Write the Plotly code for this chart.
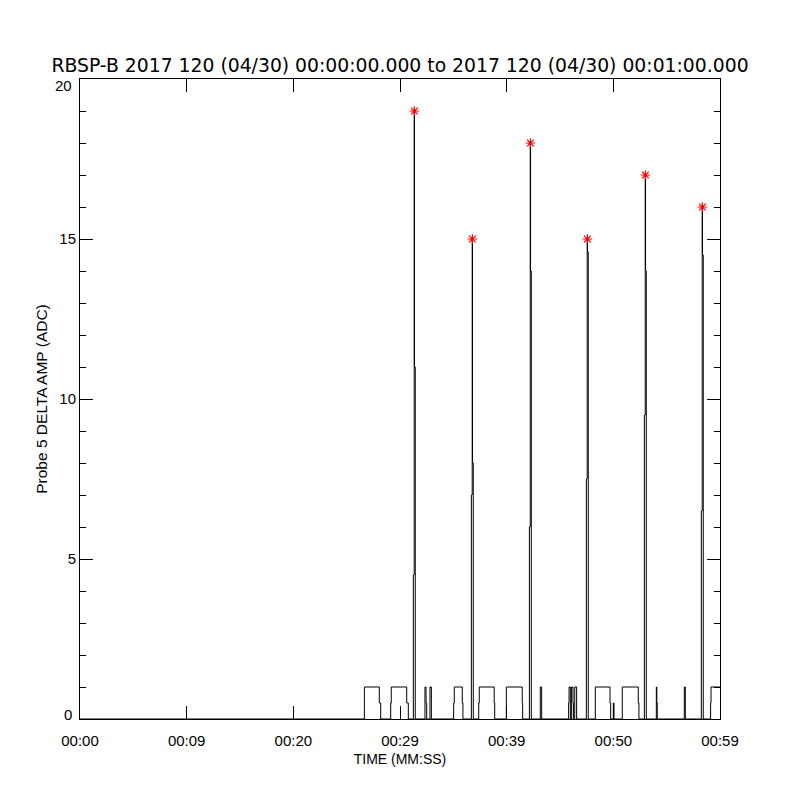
import plotly.graph_objects as go

# Signal samples (time in seconds from 00:00:00, value held until next sample)
sig_t = [0.0,
         26.66, 28.06, 28.19,
         29.13, 29.18, 30.63, 30.78,
         31.25, 31.33, 31.36, 31.43,
         32.34, 32.44, 32.50, 32.81, 32.94,
         35.03, 35.09, 35.84, 35.90,
         36.69, 36.77, 36.80, 36.87,
         37.38, 37.43, 38.83, 38.88,
         39.97, 41.46, 41.50,
         42.13, 42.21, 42.24, 42.31,
         43.15, 43.28,
         45.81, 45.85, 45.97, 46.09, 46.22, 46.26, 46.38, 46.56,
         47.47, 47.55, 47.58, 47.65,
         48.31, 49.69, 49.75,
         50.00, 50.06,
         50.84, 52.34, 52.40,
         52.91, 52.99, 53.02, 53.09,
         54.03, 54.08, 54.12,
         56.65, 56.75,
         58.25, 58.33, 58.36, 58.43,
         59.12, 59.16, 60.0]
sig_v = [0,
         1, 0.5, 0,
         0.5, 1, 0.5, 0,
         4.5, 19, 11, 0,
         1, 0.5, 0, 1, 0,
         0.5, 1, 0.5, 0,
         7, 15, 8, 0,
         0.5, 1, 0.5, 0,
         1, 0.5, 0,
         6, 18, 14, 0,
         1, 0,
         0.5, 1, 0, 1, 0.5, 0, 1, 0,
         7.5, 15, 14.6, 0,
         1, 0.5, 0,
         0.5, 0,
         1, 0.5, 0,
         9.5, 17, 14, 0,
         1, 0.5, 0,
         1, 0,
         6.5, 16, 14.5, 0,
         0.5, 1, 1]

# Detected peaks
peak_t = [31.345, 36.785, 42.225, 47.565, 53.005, 58.345]
peak_v = [19, 15, 18, 15, 17, 16]

# Axis ticks
x_tickvals = [0, 10, 20, 30, 40, 50, 60]
x_ticktext = ["00:00", "00:09", "00:20", "00:29", "00:39", "00:50", "00:59"]
y_tickvals = [0, 5, 10, 15, 20]
y_ticktext = ["", "5", "10", "15", ""]
y_end_labels = [(0, "0"), (20, "20")]

title_text = "RBSP-B 2017 120 (04/30) 00:00:00.000 to 2017 120 (04/30) 00:01:00.000"

FONT = "Liberation Sans"
TFONT = "DejaVu Sans"

# page body has an 8px margin, so figure is 792x792 placed at (8,8)
W = H = 792

fig = go.Figure()
fig.add_trace(go.Scatter(x=sig_t, y=sig_v, mode="lines", line=dict(color="black", width=1, shape="hv"),
                         showlegend=False, hoverinfo="skip"))
fig.add_trace(go.Scatter(x=peak_t, y=peak_v, mode="markers",
                         marker=dict(symbol="asterisk-open", color="red", size=8,
                                     line=dict(color="red", width=1.2)),
                         showlegend=False))

for val, txt in y_end_labels:
    fig.add_annotation(x=0, xref="paper", y=val, yref="y", text=txt, showarrow=False,
                       xanchor="right", yanchor="middle", xshift=-6,
                       yshift=5 if val == 0 else -6,
                       font=dict(family=FONT, size=15, color="black"))

fig.update_layout(
    width=W, height=H,
    paper_bgcolor="white", plot_bgcolor="white",
    margin=dict(l=72, r=80, t=71, b=81, autoexpand=False),
    title=dict(text=title_text, x=400 / W - 8 / W, xanchor="center", y=1 - 57 / H, yanchor="middle",
               font=dict(family=TFONT, size=18.8, color="black")),
    font=dict(family=FONT, color="black"),
    xaxis=dict(range=[0, 60], tickvals=x_tickvals, ticktext=x_ticktext,
               ticks="inside", ticklen=13, tickwidth=1, tickcolor="black",
               showline=True, linecolor="black", linewidth=1, mirror="ticks",
               showgrid=False, zeroline=False, automargin=False,
               ticklabelstandoff=8,
               tickfont=dict(family=FONT, size=15, color="black"),
               title=dict(text="TIME (MM:SS)", font=dict(family=FONT, size=14, color="black"), standoff=6)),
    yaxis=dict(range=[0, 20], tickvals=y_tickvals, ticktext=y_ticktext,
               ticks="inside", ticklen=13, tickwidth=1, tickcolor="black",
               minor=dict(dtick=1, ticks="inside", ticklen=6, tickcolor="black", showgrid=False),
               showline=True, linecolor="black", linewidth=1, mirror="ticks",
               showgrid=False, zeroline=False, automargin=False,
               tickfont=dict(family=FONT, size=15, color="black"),
               title=dict(text="Probe 5 DELTA AMP (ADC)", font=dict(family=FONT, size=15.5, color="black"), standoff=7)),
)

fig.write_html("out.html")
